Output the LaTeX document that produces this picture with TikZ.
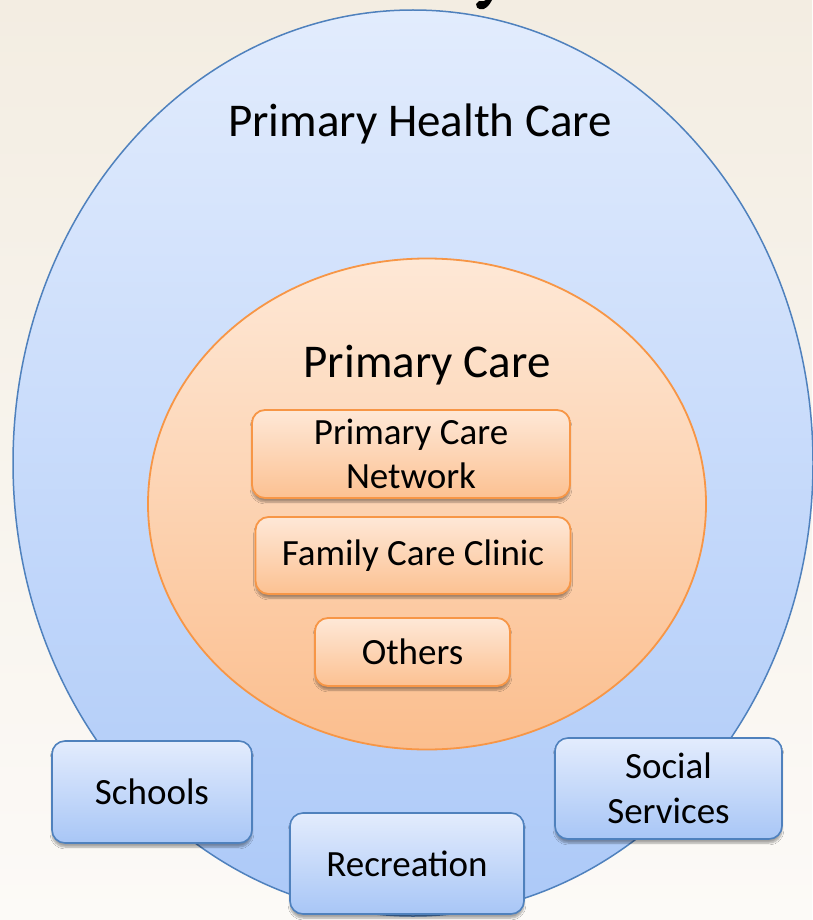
\documentclass[tikz,border=0pt]{standalone}
\usepackage{fontspec}
\setmainfont{Carlito}
\usetikzlibrary{shapes.geometric,shadows.blur}
\definecolor{bgtop}{RGB}{243,237,226}
\definecolor{bgbot}{RGB}{252,250,247}
\definecolor{blueline}{RGB}{79,129,189}
\definecolor{bluetop}{RGB}{226,236,253}
\definecolor{bluebot}{RGB}{172,201,248}
\definecolor{boxbluetop}{RGB}{227,236,253}
\definecolor{boxbluebot}{RGB}{168,198,246}
\definecolor{orangeline}{RGB}{247,150,70}
\definecolor{orangetop}{RGB}{254,232,214}
\definecolor{orangebot}{RGB}{251,190,142}
\definecolor{boxorangetop}{RGB}{254,232,215}
\definecolor{boxorangebot}{RGB}{252,193,146}
\tikzset{
  x=1pt, y=-1pt,
  bigtext/.style={font=\fontsize{47}{56}\selectfont, text=black, anchor=base, inner sep=0pt},
  boxtext/.style={font=\fontsize{37}{44.5}\selectfont, align=center},
  bluebox/.style={draw=blueline, line width=1.6pt, rounded corners=13pt,
    top color=boxbluetop, bottom color=boxbluebot, inner sep=0pt, boxtext,
    blur shadow={shadow xshift=0pt, shadow yshift=-4pt, shadow blur steps=6, shadow opacity=35}},
  orangebox/.style={draw=orangeline, line width=1.8pt, rounded corners=13pt,
    top color=boxorangetop, bottom color=boxorangebot, inner sep=0pt, boxtext,
    blur shadow={shadow xshift=0pt, shadow yshift=-4pt, shadow blur steps=6, shadow opacity=35}},
}
\begin{document}
\begin{tikzpicture}
\useasboundingbox (0,0) rectangle (812,920);
\shade[top color=bgtop, bottom color=bgbot] (0,0) rectangle (812,920);
% fragment of the title glyph cut by the top edge
\fill[black] (476,4) .. controls (476,10) and (483,11) .. (487,7)
  .. controls (490,4) and (491,2) .. (492,0) -- (486,0)
  .. controls (485,2) and (482,1) .. (479,1) .. controls (477,2) .. (476,4) -- cycle;
% outer ellipse
\node[ellipse, draw=blueline, line width=1.5pt, top color=bluetop, bottom color=bluebot,
  minimum width=800pt, minimum height=906pt, inner sep=0pt] (phc) at (413,463) {};
\node[bigtext] (phct) at (420,137) {Primary Health Care};
% inner ellipse
\node[ellipse, draw=orangeline, line width=1.8pt, top color=orangetop, bottom color=orangebot,
  minimum width=558pt, minimum height=491pt, inner sep=0pt] (pc) at (427,504) {};
\node[bigtext] (pct) at (427,377) {Primary Care};
% orange boxes
\node[orangebox, minimum width=318pt, minimum height=88pt] (pcn) at (411,454) {Primary Care\\Network};
\node[orangebox, minimum width=315pt, minimum height=77pt] (fcc) at (413,555.5) {Family Care Clinic};
\node[orangebox, minimum width=195pt, minimum height=68pt] (oth) at (412.5,652) {Others};
% blue boxes
\node[bluebox, minimum width=200pt, minimum height=102pt] (sch) at (152,792) {Schools};
\node[bluebox, minimum width=234pt, minimum height=101pt] (rec) at (407,863.5) {Recreation};
\node[bluebox, minimum width=227pt, minimum height=101pt] (soc) at (668.5,788.5) {Social\\Services};
\end{tikzpicture}
\end{document}
